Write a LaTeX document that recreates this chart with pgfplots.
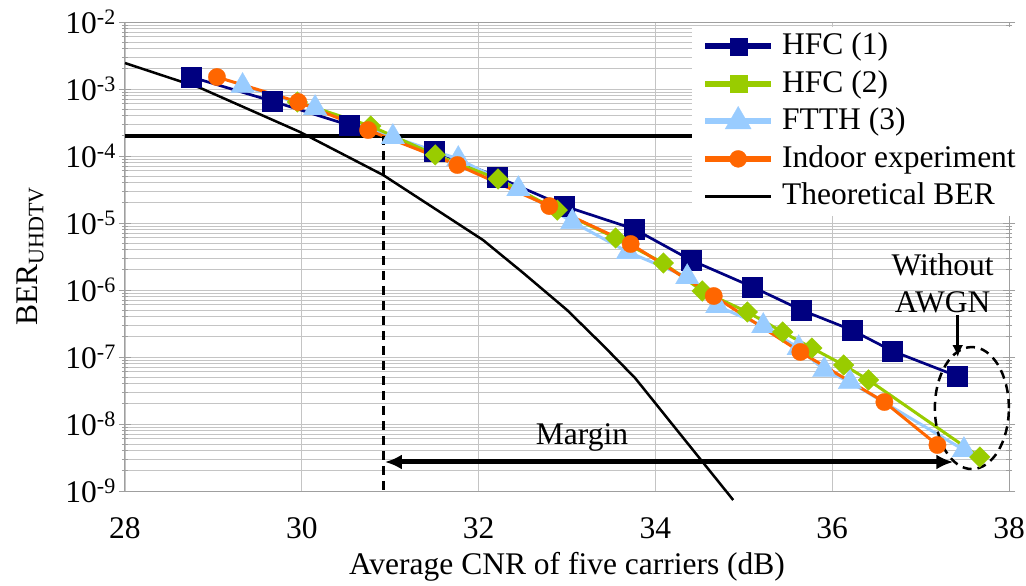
\documentclass[border=0pt]{standalone}
\usepackage{fontspec}
\setmainfont{Liberation Serif}
\usepackage{pgfplots}
\pgfplotsset{compat=1.18}
\usetikzlibrary{arrows.meta}
\definecolor{hfcone}{HTML}{000080}
\definecolor{hfctwo}{HTML}{99CC00}
\definecolor{ftth}{HTML}{99CCFF}
\definecolor{indoor}{HTML}{FF6600}
\definecolor{gridc}{HTML}{C4C4C4}
\newcommand{\fs}{\fontsize{31.5}{37}\selectfont}
\begin{document}
\begin{tikzpicture}
\begin{axis}[
  scale only axis, width=884pt, height=469pt,
  ymode=log, xmin=28, xmax=38, ymin=1e-9, ymax=1e-2,
  clip=false,
  axis background/.style={fill=white},
  xtick={28,30,32,34,36,38}, xticklabels={28,30,32,34,36,38},
  ytick={1e-9,1e-8,1e-7,1e-6,1e-5,1e-4,1e-3,1e-2},
  yticklabels={10\textsuperscript{-9},10\textsuperscript{-8},10\textsuperscript{-7},10\textsuperscript{-6},10\textsuperscript{-5},10\textsuperscript{-4},10\textsuperscript{-3},10\textsuperscript{-2}},
  /pgf/number format/assume math mode=true,
  xmajorgrids, ymajorgrids, yminorgrids,
  major grid style={gridc, line width=0.9pt},
  minor grid style={gridc, line width=0.9pt},
  axis line style={gray!75, line width=1pt},
  x tick style={draw=none},
  y tick style={gray!75, line width=0.9pt},
  tick align=center, major tick length=12pt, minor tick length=6pt,
  xticklabel style={font=\fs, inner sep=0pt, anchor=center, yshift=-31.5pt},
  yticklabel style={font=\fs, inner sep=0pt, anchor=east, xshift=-3pt},
  xlabel={Average CNR of five carriers (dB)},
  ylabel={BER\textsubscript{UHDTV}},
  every axis x label/.style={at={(axis description cs:0.5,-0.162)}, anchor=center, font=\fs},
  every axis y label/.style={at={(axis description cs:-0.107,0.5)}, anchor=center, rotate=90, font=\fs},
  legend cell align=left,
  legend image code/.code={\draw[mark repeat=2,mark phase=2] plot coordinates {(0pt,0pt) (33pt,0pt) (66pt,0pt)};},
  legend style={at={(rel axis cs:0.6414,0.99)}, anchor=north west, draw=none, fill=white,
    font=\fs, inner xsep=10pt, inner ysep=2pt, row sep=2.5pt,
    nodes={inner xsep=0pt, inner ysep=2pt, text height=24pt, text depth=7pt},
    /tikz/every odd column/.append style={column sep=8pt}},
]
% legend entries
\addlegendimage{hfcone, line width=6pt, mark=square*, mark size=8.5pt, mark options={solid, fill=hfcone, draw=hfcone, line width=0.3pt}}
\addlegendentry{HFC (1)}
\addlegendimage{hfctwo, line width=6pt, mark=square*, mark size=8.5pt, mark options={solid, fill=hfctwo, draw=hfctwo, line width=0.3pt}}
\addlegendentry{HFC (2)}
\addlegendimage{ftth, line width=6pt, mark=triangle*, mark size=15pt, mark options={solid, fill=ftth, draw=ftth, line width=0.3pt}}
\addlegendentry{FTTH (3)}
\addlegendimage{indoor, line width=6pt, mark=*, mark size=8.5pt, mark options={solid, fill=indoor, draw=indoor, line width=0.3pt}}
\addlegendentry{Indoor experiment}
\addlegendimage{black, line width=3pt}
\addlegendentry{Theoretical BER}

% theoretical BER
\addplot[black, line width=2.5pt, line join=round, forget plot] coordinates {
(28.00,2.44e-3) (28.85,1.04e-3) (29.41,4.90e-4) (29.98,2.28e-4) (30.92,5.20e-5)
(31.48,1.72e-5) (32.05,5.57e-6) (32.50,1.82e-6) (33.00,5.03e-7) (33.41,1.48e-7)
(33.77,4.86e-8) (34.20,9.57e-9) (34.58,2.28e-9) (34.88,7.34e-10)};
% threshold
\addplot[black, line width=4.3pt, forget plot] coordinates {(28,2e-4) (38,2e-4)};

% HFC (1)
\addplot[hfcone, line width=2.7pt, mark=square*, mark size=10pt, mark options={solid, fill=hfcone, draw=hfcone, line width=0.3pt}, forget plot] coordinates {
(28.75,1.51e-3) (29.66,6.62e-4) (30.53,2.90e-4) (31.50,1.19e-4) (32.21,4.86e-5)
(32.97,1.79e-5) (33.76,8.13e-6) (34.40,2.80e-6) (35.10,1.11e-6) (35.65,5.03e-7)
(36.22,2.53e-7) (36.68,1.23e-7) (37.41,5.20e-8)};
% FTTH (3)
\addplot[ftth, line width=3pt, mark=triangle*, mark size=13.5pt, mark options={solid, fill=ftth, draw=ftth, line width=0.3pt}, forget plot] coordinates {
(29.33,1.11e-3) (30.15,5.20e-4) (31.03,1.92e-4) (31.77,9.02e-5) (32.45,3.21e-5)
(33.06,1.04e-5) (33.69,3.69e-6) (34.36,1.56e-6) (34.70,5.77e-7) (35.22,2.90e-7)
(35.62,1.36e-7) (35.91,6.40e-8) (36.20,4.24e-8) (37.49,4.09e-9)};
% HFC (2)
\addplot[hfctwo, line width=3pt, mark=square*, mark size=7.3pt, mark options={solid, rotate=45, fill=hfctwo, draw=hfctwo, line width=0.3pt}, forget plot] coordinates {
(29.95,6.40e-4) (30.78,2.80e-4) (31.51,1.04e-4) (32.22,4.54e-5) (32.89,1.56e-5)
(33.55,5.97e-6) (34.09,2.53e-6) (34.53,9.66e-7) (35.04,4.70e-7) (35.44,2.36e-7)
(35.77,1.36e-7) (36.13,7.60e-8) (36.41,4.54e-8) (37.67,3.21e-9)};
% Indoor experiment
\addplot[indoor, line width=3pt, mark=*, mark size=8.7pt, mark options={solid, fill=indoor, draw=indoor, line width=0.3pt}, forget plot] coordinates {
(29.04,1.51e-3) (29.96,6.40e-4) (30.75,2.44e-4) (31.76,7.34e-5) (32.80,1.79e-5)
(33.72,4.86e-6) (34.66,8.13e-7) (35.64,1.19e-7) (36.59,2.13e-8) (37.19,4.86e-9)};

% annotations
\draw[black, line width=3pt, dash pattern=on 9pt off 6pt] (axis cs:30.92,2e-4) -- (axis cs:30.92,1e-9);
\draw[{Latex[length=17pt,width=15pt]}-{Latex[length=17pt,width=15pt]}, line width=5pt] (axis cs:30.94,2.71e-9) -- (axis cs:37.37,2.71e-9);
\node[font=\fs] at (axis cs:33.17,6.4e-9) {Margin};
\node[font=\fs, align=center] at (axis cs:37.25,1.27e-6) {Without\\AWGN};
\draw[-{Latex[length=12pt,width=11pt]}, line width=3pt] (axis cs:37.42,4.24e-7) -- (axis cs:37.42,1e-7);
\draw[black, line width=2.5pt, dash pattern=on 9pt off 6pt] (axis cs:37.58,1.73e-8) ellipse [x radius=37pt, y radius=61pt];
\end{axis}
\pgfresetboundingbox
\path[use as bounding box] ([xshift=-125pt,yshift=-95pt]current axis.south west) rectangle ++(1026pt,586pt);
\end{tikzpicture}
\end{document}
